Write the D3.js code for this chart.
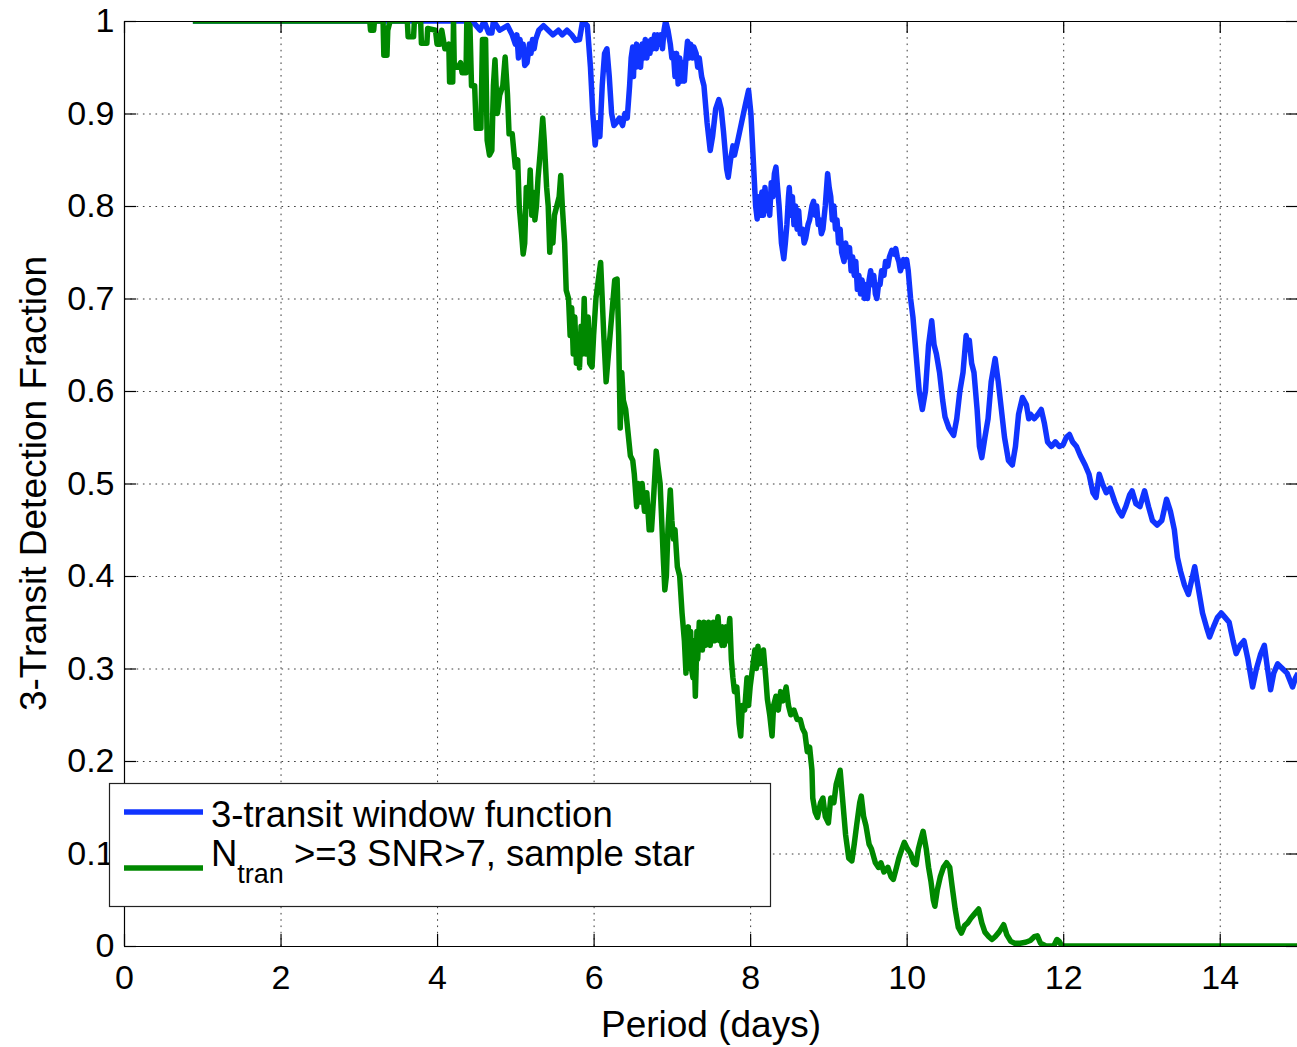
<!DOCTYPE html>
<html>
<head>
<meta charset="utf-8">
<script src="https://cdn.jsdelivr.net/npm/d3@7"></script>
<style>
  html, body { margin: 0; padding: 0; background: #fff; }
  svg { display: block; font-family: "Liberation Sans", Arial, Helvetica, sans-serif; }
</style>
</head>
<body>
<svg id="chart" width="1297" height="1047"></svg>
<script>
// Period (days) ticks and detection-fraction ticks
const xTicks = [0, 2, 4, 6, 8, 10, 12, 14];
const yTicks = [0, 0.1, 0.2, 0.3, 0.4, 0.5, 0.6, 0.7, 0.8, 0.9, 1];

// 3-transit window function: [period, fraction]
const windowFunction = [
  [0.88,1.0],[4.45,1.0],[4.50,0.995],[4.55,0.99],[4.60,1.0],[4.66,0.987],[4.70,0.987],[4.72,1.0],
  [4.80,0.99],[4.90,0.995],[4.96,0.985],[5.00,0.975],[5.02,0.985],[5.04,0.96],[5.06,0.98],[5.08,0.965],
  [5.10,0.975],[5.12,0.952],[5.15,0.955],[5.18,0.975],[5.20,0.965],[5.22,0.98],[5.24,0.97],[5.26,0.98],
  [5.30,0.99],[5.36,0.995],[5.42,0.99],[5.48,0.985],[5.55,0.99],[5.60,0.985],[5.66,0.99],[5.72,0.985],
  [5.77,0.979],[5.82,0.98],[5.86,1.0],[5.92,0.995],[5.96,0.95],[5.99,0.90],[6.02,0.866],[6.05,0.89],
  [6.08,0.875],[6.11,0.93],[6.14,0.965],[6.17,0.97],[6.20,0.94],[6.23,0.90],[6.26,0.887],[6.29,0.89],
  [6.33,0.895],[6.37,0.887],[6.40,0.90],[6.43,0.895],[6.46,0.93],[6.48,0.96],[6.50,0.972],[6.51,0.94],
  [6.52,0.97],[6.54,0.95],[6.55,0.975],[6.57,0.955],[6.58,0.97],[6.60,0.95],[6.62,0.975],[6.64,0.96],
  [6.66,0.98],[6.68,0.96],[6.70,0.978],[6.72,0.965],[6.74,0.98],[6.76,0.97],[6.78,0.985],[6.80,0.97],
  [6.82,0.985],[6.84,0.975],[6.86,0.985],[6.88,0.97],[6.90,0.99],[6.92,1.0],[6.95,0.99],[6.98,0.975],
  [7.00,0.96],[7.02,0.965],[7.04,0.94],[7.06,0.965],[7.08,0.932],[7.10,0.96],[7.12,0.935],[7.14,0.955],
  [7.16,0.935],[7.18,0.96],[7.20,0.978],[7.22,0.96],[7.24,0.975],[7.26,0.96],[7.28,0.972],[7.31,0.965],
  [7.33,0.95],[7.35,0.96],[7.38,0.94],[7.41,0.93],[7.45,0.89],[7.49,0.86],[7.52,0.875],[7.56,0.905],
  [7.60,0.915],[7.63,0.905],[7.66,0.88],[7.70,0.84],[7.72,0.831],[7.75,0.85],[7.78,0.865],[7.80,0.855],
  [7.84,0.87],[7.89,0.89],[7.94,0.91],[7.98,0.925],[8.01,0.90],[8.04,0.85],[8.07,0.80],[8.09,0.786],
  [8.11,0.81],[8.13,0.79],[8.15,0.815],[8.17,0.79],[8.19,0.82],[8.21,0.795],[8.23,0.81],[8.25,0.79],
  [8.27,0.825],[8.29,0.81],[8.31,0.835],[8.33,0.842],[8.35,0.82],[8.37,0.80],[8.40,0.76],[8.43,0.743],
  [8.45,0.76],[8.47,0.78],[8.49,0.81],[8.50,0.82],[8.52,0.79],[8.54,0.81],[8.56,0.78],[8.58,0.80],
  [8.60,0.775],[8.62,0.795],[8.64,0.77],[8.67,0.775],[8.69,0.76],[8.71,0.765],[8.74,0.78],[8.76,0.785],
  [8.79,0.80],[8.81,0.805],[8.83,0.79],[8.85,0.80],[8.87,0.78],[8.89,0.785],[8.91,0.77],[8.93,0.775],
  [8.96,0.80],[8.99,0.835],[9.01,0.82],[9.03,0.81],[9.05,0.785],[9.07,0.80],[9.09,0.775],[9.11,0.785],
  [9.13,0.76],[9.15,0.775],[9.17,0.75],[9.20,0.74],[9.22,0.76],[9.25,0.745],[9.27,0.755],[9.29,0.73],
  [9.31,0.745],[9.33,0.725],[9.35,0.74],[9.37,0.71],[9.39,0.725],[9.41,0.705],[9.43,0.72],[9.46,0.70],
  [9.48,0.715],[9.50,0.70],[9.52,0.72],[9.54,0.73],[9.56,0.715],[9.58,0.725],[9.60,0.705],[9.62,0.70],
  [9.64,0.715],[9.66,0.715],[9.68,0.73],[9.71,0.725],[9.73,0.74],[9.76,0.735],[9.78,0.745],[9.81,0.752],
  [9.84,0.748],[9.86,0.754],[9.88,0.745],[9.90,0.74],[9.92,0.73],[9.94,0.735],[9.96,0.742],[9.98,0.735],
  [10.00,0.742],[10.02,0.73],[10.05,0.70],[10.08,0.68],[10.12,0.64],[10.16,0.60],[10.20,0.58],[10.24,0.60],
  [10.28,0.65],[10.32,0.676],[10.35,0.65],[10.38,0.64],[10.42,0.62],[10.46,0.59],[10.49,0.572],[10.54,0.56],
  [10.60,0.552],[10.64,0.57],[10.68,0.60],[10.72,0.62],[10.76,0.66],[10.78,0.645],[10.80,0.655],[10.83,0.63],
  [10.86,0.62],[10.90,0.58],[10.93,0.54],[10.96,0.528],[11.00,0.55],[11.04,0.57],[11.08,0.61],[11.13,0.635],
  [11.17,0.61],[11.21,0.58],[11.25,0.55],[11.30,0.525],[11.35,0.52],[11.39,0.54],[11.43,0.575],[11.48,0.593],
  [11.53,0.585],[11.56,0.57],[11.58,0.575],[11.63,0.57],[11.68,0.575],[11.72,0.58],[11.76,0.565],[11.80,0.545],
  [11.85,0.54],[11.90,0.545],[11.95,0.54],[12.00,0.542],[12.04,0.55],[12.08,0.553],[12.12,0.545],[12.17,0.54],
  [12.22,0.53],[12.28,0.52],[12.33,0.51],[12.38,0.49],[12.42,0.485],[12.46,0.51],[12.50,0.50],[12.55,0.49],
  [12.60,0.495],[12.66,0.48],[12.71,0.47],[12.75,0.465],[12.80,0.475],[12.85,0.488],[12.88,0.492],[12.93,0.478],
  [12.98,0.475],[13.04,0.492],[13.09,0.475],[13.14,0.46],[13.20,0.455],[13.26,0.46],[13.32,0.483],[13.37,0.47],
  [13.42,0.45],[13.46,0.42],[13.50,0.405],[13.55,0.39],[13.60,0.38],[13.64,0.395],[13.68,0.41],[13.72,0.39],
  [13.78,0.36],[13.83,0.345],[13.87,0.334],[13.92,0.345],[13.97,0.355],[14.02,0.36],[14.07,0.355],[14.12,0.35],
  [14.17,0.33],[14.21,0.316],[14.26,0.325],[14.31,0.33],[14.36,0.31],[14.42,0.28],[14.47,0.30],[14.52,0.315],
  [14.57,0.325],[14.61,0.30],[14.65,0.277],[14.69,0.295],[14.74,0.305],[14.80,0.30],[14.86,0.295],[14.93,0.28],
  [14.97,0.29],[15.0,0.295]
];

// N_tran >= 3, SNR > 7 for the sample star: [period, fraction]
const sampleStar = [
  [0.88,1.0],[3.14,1.0],[3.15,0.99],[3.19,0.99],[3.20,1.0],[3.31,1.0],[3.32,0.963],[3.36,0.963],
  [3.37,0.99],[3.40,1.0],[3.62,1.0],[3.63,0.983],[3.70,0.983],[3.71,1.0],[3.79,1.0],[3.80,0.976],
  [3.87,0.976],[3.88,0.992],[3.98,0.99],[4.00,0.975],[4.04,0.975],[4.06,0.99],[4.10,0.97],[4.15,0.975],
  [4.16,0.934],[4.20,0.934],[4.21,1.0],[4.22,0.95],[4.27,0.95],[4.30,0.955],[4.32,0.944],[4.37,0.944],
  [4.38,1.0],[4.42,0.995],[4.44,0.93],[4.48,0.93],[4.50,0.884],[4.56,0.884],[4.58,0.98],[4.62,0.98],
  [4.64,0.871],[4.67,0.855],[4.70,0.86],[4.72,0.93],[4.74,0.958],[4.77,0.90],[4.80,0.92],[4.84,0.93],
  [4.87,0.961],[4.90,0.92],[4.92,0.878],[4.96,0.878],[5.00,0.842],[5.03,0.85],[5.05,0.80],[5.08,0.77],
  [5.10,0.748],[5.12,0.76],[5.14,0.82],[5.17,0.80],[5.19,0.839],[5.21,0.79],[5.23,0.815],[5.25,0.785],
  [5.27,0.80],[5.29,0.83],[5.32,0.86],[5.35,0.895],[5.37,0.87],[5.40,0.82],[5.42,0.80],[5.44,0.75],
  [5.46,0.78],[5.48,0.76],[5.50,0.79],[5.53,0.80],[5.56,0.81],[5.58,0.833],[5.60,0.80],[5.63,0.76],
  [5.65,0.709],[5.68,0.70],[5.70,0.66],[5.72,0.69],[5.74,0.64],[5.76,0.68],[5.78,0.63],[5.80,0.66],
  [5.82,0.625],[5.84,0.67],[5.86,0.64],[5.88,0.70],[5.90,0.64],[5.93,0.68],[5.95,0.63],[5.98,0.626],
  [6.00,0.66],[6.03,0.70],[6.06,0.72],[6.09,0.739],[6.11,0.70],[6.13,0.66],[6.16,0.61],[6.18,0.63],
  [6.21,0.66],[6.24,0.69],[6.27,0.72],[6.30,0.721],[6.32,0.66],[6.34,0.56],[6.36,0.62],[6.38,0.59],
  [6.41,0.58],[6.44,0.555],[6.47,0.53],[6.50,0.525],[6.52,0.51],[6.55,0.475],[6.57,0.50],[6.59,0.48],
  [6.62,0.50],[6.65,0.47],[6.68,0.49],[6.71,0.45],[6.74,0.45],[6.77,0.49],[6.80,0.535],[6.82,0.52],
  [6.85,0.50],[6.87,0.46],[6.89,0.42],[6.91,0.385],[6.93,0.40],[6.95,0.45],[6.98,0.493],[7.00,0.46],
  [7.02,0.44],[7.04,0.45],[7.07,0.41],[7.10,0.40],[7.13,0.36],[7.16,0.33],[7.18,0.295],[7.19,0.34],
  [7.20,0.30],[7.21,0.345],[7.22,0.31],[7.24,0.34],[7.25,0.30],[7.27,0.29],[7.28,0.33],[7.30,0.27],
  [7.31,0.30],[7.32,0.34],[7.33,0.31],[7.35,0.35],[7.36,0.32],[7.38,0.345],[7.39,0.32],[7.41,0.35],
  [7.43,0.325],[7.44,0.345],[7.46,0.33],[7.47,0.35],[7.49,0.325],[7.50,0.345],[7.52,0.33],[7.53,0.35],
  [7.55,0.33],[7.57,0.345],[7.59,0.356],[7.61,0.33],[7.62,0.345],[7.64,0.325],[7.65,0.345],[7.67,0.325],
  [7.69,0.345],[7.71,0.33],[7.74,0.354],[7.76,0.31],[7.78,0.29],[7.80,0.275],[7.83,0.28],[7.86,0.24],
  [7.88,0.227],[7.90,0.26],[7.93,0.255],[7.96,0.29],[7.98,0.26],[8.00,0.28],[8.03,0.30],[8.06,0.32],
  [8.08,0.30],[8.10,0.324],[8.12,0.305],[8.14,0.31],[8.17,0.32],[8.20,0.29],[8.22,0.267],[8.25,0.25],
  [8.28,0.227],[8.30,0.26],[8.33,0.27],[8.36,0.255],[8.39,0.275],[8.42,0.265],[8.46,0.28],[8.49,0.26],
  [8.52,0.25],[8.56,0.255],[8.60,0.245],[8.64,0.245],[8.67,0.235],[8.70,0.23],[8.73,0.21],[8.76,0.215],
  [8.79,0.19],[8.80,0.16],[8.83,0.145],[8.86,0.139],[8.90,0.155],[8.93,0.16],[8.96,0.14],[9.00,0.133],
  [9.03,0.16],[9.07,0.155],[9.10,0.175],[9.15,0.19],[9.18,0.16],[9.22,0.12],[9.26,0.095],[9.30,0.092],
  [9.33,0.11],[9.36,0.13],[9.40,0.155],[9.42,0.162],[9.45,0.14],[9.48,0.13],[9.52,0.11],[9.55,0.105],
  [9.60,0.09],[9.64,0.085],[9.67,0.09],[9.71,0.08],[9.76,0.085],[9.80,0.075],[9.83,0.072],[9.87,0.085],
  [9.90,0.095],[9.94,0.105],[9.97,0.112],[10.01,0.105],[10.05,0.10],[10.09,0.09],[10.12,0.088],[10.15,0.105],
  [10.18,0.115],[10.21,0.124],[10.25,0.105],[10.28,0.085],[10.31,0.07],[10.34,0.05],[10.36,0.043],[10.39,0.06],
  [10.43,0.075],[10.47,0.085],[10.51,0.09],[10.55,0.085],[10.58,0.065],[10.62,0.04],[10.66,0.02],[10.70,0.014],
  [10.74,0.022],[10.78,0.025],[10.82,0.03],[10.87,0.035],[10.92,0.04],[10.96,0.025],[11.00,0.015],[11.05,0.01],
  [11.09,0.007],[11.13,0.01],[11.18,0.015],[11.24,0.023],[11.28,0.012],[11.33,0.005],[11.38,0.003],[11.45,0.003],
  [11.52,0.004],[11.58,0.006],[11.63,0.01],[11.67,0.011],[11.71,0.003],[11.78,0],[11.88,0],[11.92,0.007],
  [11.95,0.005],[11.98,0],[15.0,0]
];

const seriesNames = ["3-transit window function", "N", "tran", " >=3 SNR>7, sample star"];
const seriesColors = ["#1034ff", "#008800"];

const svg = d3.select("#chart");
const margin = { left: 124, top: 21, right: 1298, bottom: 946 };

const x = d3.scaleLinear().domain([0, 15]).range([margin.left, margin.right]);
const y = d3.scaleLinear().domain([0, 1]).range([margin.bottom, margin.top]);

const tickFont = 34, labelFont = 37, legendFont = 36.5, subFont = 27;
const tickLen = 12;
const lineWidth = 5.5;

// clip region for the data lines
svg.append("defs").append("clipPath").attr("id", "plotClip")
  .append("rect")
  .attr("x", margin.left).attr("y", margin.top)
  .attr("width", margin.right - margin.left).attr("height", margin.bottom - margin.top);

// dotted grid
const grid = svg.append("g").attr("class", "grid");
grid.append("g")
  .attr("transform", `translate(0,${margin.bottom})`)
  .call(d3.axisBottom(x).tickValues(xTicks.filter(d => d > 0)).tickSize(-(margin.bottom - margin.top)).tickFormat(""))
  .call(g => g.select(".domain").remove());
grid.append("g")
  .attr("transform", `translate(${margin.left},0)`)
  .call(d3.axisLeft(y).tickValues(yTicks.filter(d => d > 0 && d < 1)).tickSize(-(margin.right - margin.left)).tickFormat(""))
  .call(g => g.select(".domain").remove());
grid.selectAll("line")
  .attr("stroke", "#3a3a3a").attr("stroke-width", 1)
  .attr("stroke-dasharray", "1.6,4.7");

// data lines
const line = d3.line().x(d => x(d[0])).y(d => y(d[1]));
const plot = svg.append("g").attr("clip-path", "url(#plotClip)");
[windowFunction, sampleStar].forEach((data, i) => {
  plot.append("path")
    .datum(data)
    .attr("d", line)
    .attr("fill", "none")
    .attr("stroke", seriesColors[i])
    .attr("stroke-width", lineWidth)
    .attr("stroke-linejoin", "round");
});

// axes with inward ticks on all four sides
function styleAxis(g) {
  g.select(".domain").attr("stroke", "#000").attr("stroke-width", 1.2);
  g.selectAll(".tick line").attr("stroke", "#000").attr("stroke-width", 1.2);
  g.selectAll("text").attr("fill", "#000").attr("font-family", "Liberation Sans, Arial, sans-serif");
}

svg.append("g")
  .attr("transform", `translate(0,${margin.bottom})`)
  .call(d3.axisBottom(x).tickValues(xTicks).tickSizeInner(-tickLen).tickSizeOuter(0).tickPadding(19).tickFormat(d3.format("d")))
  .call(styleAxis)
  .call(g => g.selectAll("text").attr("font-size", tickFont));

svg.append("g")
  .attr("transform", `translate(0,${margin.top})`)
  .call(d3.axisTop(x).tickValues(xTicks).tickSizeInner(-tickLen).tickSizeOuter(0).tickFormat(""))
  .call(styleAxis);

svg.append("g")
  .attr("transform", `translate(${margin.left},0)`)
  .call(d3.axisLeft(y).tickValues(yTicks).tickSizeInner(-tickLen).tickSizeOuter(0).tickPadding(9.5).tickFormat(d => d === 0 || d === 1 ? String(d) : d.toFixed(1)))
  .call(styleAxis)
  .call(g => g.selectAll("text").attr("font-size", tickFont));

svg.append("g")
  .attr("transform", `translate(${margin.right},0)`)
  .call(d3.axisRight(y).tickValues(yTicks).tickSizeInner(-tickLen).tickSizeOuter(0).tickFormat(""))
  .call(styleAxis);

// axis titles
svg.append("text")
  .attr("x", (margin.left + margin.right) / 2).attr("y", 1037)
  .attr("text-anchor", "middle").attr("font-size", labelFont).attr("fill", "#000")
  .text("Period (days)");

svg.append("text")
  .attr("transform", `translate(46,${(margin.top + margin.bottom) / 2}) rotate(-90)`)
  .attr("text-anchor", "middle").attr("font-size", labelFont).attr("fill", "#000")
  .text("3-Transit Detection Fraction");

// legend
const legend = svg.append("g").attr("class", "legend");
legend.append("rect")
  .attr("x", 109.5).attr("y", 783.5).attr("width", 661).attr("height", 123)
  .attr("fill", "#fff").attr("stroke", "#222").attr("stroke-width", 1.2);

legend.append("line")
  .attr("x1", 124).attr("x2", 203).attr("y1", 812).attr("y2", 812)
  .attr("stroke", seriesColors[0]).attr("stroke-width", lineWidth);
legend.append("line")
  .attr("x1", 124).attr("x2", 203).attr("y1", 868).attr("y2", 868)
  .attr("stroke", seriesColors[1]).attr("stroke-width", lineWidth);

legend.append("text")
  .attr("x", 211).attr("y", 827).attr("font-size", legendFont).attr("fill", "#000")
  .text(seriesNames[0]);

const t2 = legend.append("text")
  .attr("x", 211).attr("y", 866).attr("font-size", legendFont).attr("fill", "#000")
  .attr("xml:space", "preserve");
t2.append("tspan").text(seriesNames[1]);
t2.append("tspan").attr("dy", 17).attr("font-size", subFont).text(seriesNames[2]);
t2.append("tspan").attr("dy", -17).attr("font-size", legendFont).text(seriesNames[3]);
</script>
</body>
</html>
